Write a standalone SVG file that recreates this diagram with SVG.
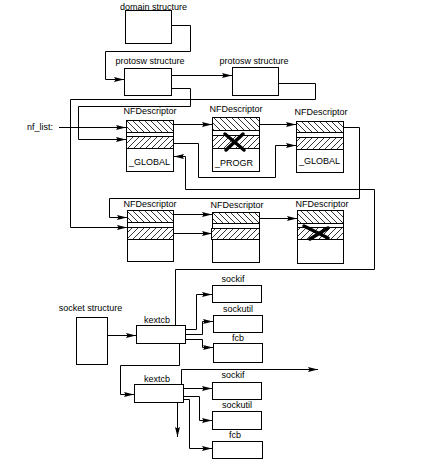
<svg xmlns="http://www.w3.org/2000/svg" width="421" height="464" viewBox="0 0 421 464">
<defs>
<style>
text{font-family:"Liberation Sans",Arial,sans-serif;font-size:9px;fill:#000}
.c{text-anchor:middle}
.b{fill:#fff;stroke:#000;stroke-width:1}
.h1{fill:url(#hb);stroke:#000;stroke-width:1}
.h2{fill:url(#hf);stroke:#000;stroke-width:1}
.l{fill:none;stroke:#000;stroke-width:1}
.a{fill:none;stroke:#000;stroke-width:1;marker-end:url(#ar)}
.x{fill:none;stroke:#000;stroke-width:3.5;stroke-linecap:round}
</style>
<marker id="ar" viewBox="0 -3 10 6" refX="10" refY="0" markerWidth="10" markerHeight="6" markerUnits="userSpaceOnUse" orient="auto">
<path d="M0,-2.5 L10,0 L0,2.5 L1.5,0 Z" fill="#000"/>
</marker>
<pattern id="hb" patternUnits="userSpaceOnUse" width="6" height="6">
<rect width="6" height="6" fill="#fff"/>
<path d="M-1,-1 L7,7 M-1,5 L1,7 M5,-1 L7,1" stroke="#000" stroke-width="0.8"/>
</pattern>
<pattern id="hf" patternUnits="userSpaceOnUse" width="6" height="6">
<rect width="6" height="6" fill="#fff"/>
<path d="M-1,7 L7,-1 M-1,1 L1,-1 M5,7 L7,5" stroke="#000" stroke-width="0.8"/>
</pattern>
</defs>
<rect width="421" height="464" fill="#fff"/>

<g id="connectors">
<path class="a" d="M171.5,25.5 H190.5 V51.5 H105.5 V79.5 H124"/>
<path class="a" d="M171.5,75.5 H232"/>
<path class="a" d="M278.5,83.5 H315.5 V99.5 H70.5 V227.5 H127"/>
<path class="a" d="M171.5,88.5 H190.5 V106.5 H78.5 V139.5 H126"/>
<path class="a" d="M59,127.5 H126"/>
<path class="a" d="M173.5,124.5 H212"/>
<path class="a" d="M259.5,124.5 H296"/>
<path class="a" d="M173.5,143.5 H198.5 V177.5 H275.5 V145.5 H296"/>
<path class="a" d="M343.5,127.5 H359.5 V198.5 H109.5 V217.5 H127"/>
<path class="a" d="M175.5,325 V269.5 H374.5 V189.5 H185.5 V156.5 H174"/>
<path class="a" d="M173.5,214.5 H212"/>
<path class="a" d="M173.5,233.5 H212"/>
<path class="a" d="M259.5,218.5 H297"/>
<path class="a" d="M107.5,335.5 H136"/>
<path class="a" d="M186,329.5 H196.5 V294.5 H212"/>
<path class="a" d="M186,334.5 H202.5 V321.5 H213"/>
<path class="a" d="M186,339.5 H202.5 V347.5 H213"/>
<path class="a" d="M179.5,343.5 V365.5 H120.5 V394.5 H134"/>
<path class="a" d="M181.5,384 V369.5 H318"/>
<path class="a" d="M183.5,388.5 H212"/>
<path class="a" d="M183.5,396.5 H199.5 V420.5 H212"/>
<path class="a" d="M183.5,399.5 H189.5 V448.5 H212"/>
<path class="a" d="M177.5,403 V437"/>
</g>

<g id="domain">
<text class="c" x="153.5" y="9.5">domain structure</text>
<rect class="b" x="125.5" y="10.5" width="46" height="33"/>
</g>
<g id="protosw1">
<text class="c" x="150" y="64">protosw structure</text>
<rect class="b" x="124.5" y="68.5" width="47" height="27"/>
</g>
<g id="protosw2">
<text class="c" x="254" y="64">protosw structure</text>
<rect class="b" x="232.5" y="67.5" width="46" height="28"/>
</g>

<text x="27" y="130">nf_list:</text>

<g id="nfd1">
<text class="c" x="150" y="114">NFDescriptor</text>
<rect class="b" x="126.5" y="120.5" width="47" height="51"/>
<rect class="h1" x="126.5" y="120.5" width="47" height="12"/>
<rect class="h2" x="126.5" y="136.5" width="47" height="12"/>
<text x="129" y="165">_GLOBAL</text>
</g>
<g id="nfd2">
<text class="c" x="236" y="112">NFDescriptor</text>
<rect class="b" x="212.5" y="117.5" width="47" height="54"/>
<rect class="h1" x="212.5" y="117.5" width="47" height="13"/>
<rect class="h2" x="212.5" y="135.5" width="47" height="13"/>
<path class="x" d="M225,134 L244,150 M226,150 L243,134"/>
<text x="215" y="166">_PROGR</text>
</g>
<g id="nfd3">
<text class="c" x="321" y="115">NFDescriptor</text>
<rect class="b" x="296.5" y="121.5" width="47" height="51"/>
<rect class="h1" x="296.5" y="121.5" width="47" height="11"/>
<rect class="h2" x="296.5" y="137.5" width="47" height="12"/>
<text x="299" y="164">_GLOBAL</text>
</g>

<g id="nfd4">
<text class="c" x="150" y="207">NFDescriptor</text>
<rect class="b" x="127.5" y="210.5" width="46" height="51"/>
<rect class="h1" x="127.5" y="210.5" width="46" height="12"/>
<rect class="h2" x="127.5" y="227.5" width="46" height="12"/>
</g>
<g id="nfd5">
<text class="c" x="237" y="208">NFDescriptor</text>
<rect class="b" x="212.5" y="212.5" width="47" height="50"/>
<rect class="h1" x="212.5" y="212.5" width="47" height="11"/>
<rect class="h2" x="211.5" y="228.5" width="48" height="11"/>
</g>
<g id="nfd6">
<text class="c" x="322" y="207">NFDescriptor</text>
<rect class="b" x="297.5" y="210.5" width="46" height="53"/>
<rect class="h1" x="297.5" y="210.5" width="46" height="13"/>
<rect class="h2" x="297.5" y="227.5" width="46" height="12"/>
<path class="x" d="M304,226 L328,238 M310,239 L328,228"/>
</g>

<g id="socket">
<text class="c" x="90.5" y="311">socket structure</text>
<rect class="b" x="76.5" y="317.5" width="31" height="47"/>
</g>
<g id="kextcb1">
<text class="c" x="157" y="323">kextcb</text>
<rect class="b" x="136.5" y="325.5" width="49" height="18"/>
</g>
<g id="sockif1">
<text class="c" x="233" y="282">sockif</text>
<rect class="b" x="212.5" y="285.5" width="49" height="17"/>
</g>
<g id="sockutil1">
<text class="c" x="238" y="312">sockutil</text>
<rect class="b" x="213.5" y="315.5" width="49" height="17"/>
</g>
<g id="fcb1">
<text class="c" x="238" y="341">fcb</text>
<rect class="b" x="213.5" y="343.5" width="49" height="19"/>
</g>
<g id="kextcb2">
<text class="c" x="157" y="382">kextcb</text>
<rect class="b" x="134.5" y="384.5" width="49" height="18"/>
</g>
<g id="sockif2">
<text class="c" x="233" y="378">sockif</text>
<rect class="b" x="212.5" y="382.5" width="49" height="17"/>
</g>
<g id="sockutil2">
<text class="c" x="237" y="408">sockutil</text>
<rect class="b" x="212.5" y="411.5" width="49" height="18"/>
</g>
<g id="fcb2">
<text class="c" x="235" y="438">fcb</text>
<rect class="b" x="212.5" y="441.5" width="50" height="17"/>
</g>
</svg>
